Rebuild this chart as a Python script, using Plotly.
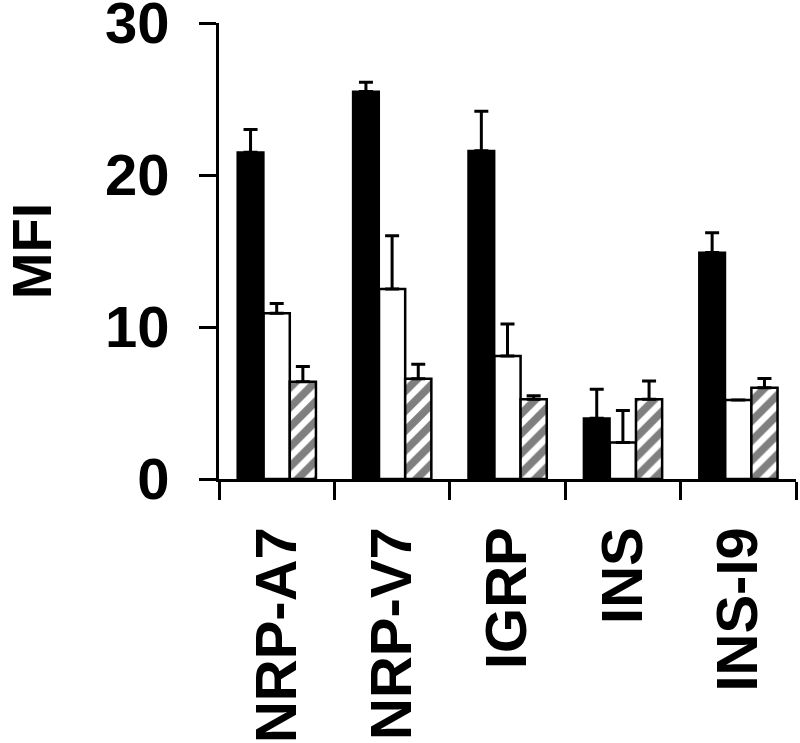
import plotly.graph_objects as go

categories = ["NRP-A7", "NRP-V7", "IGRP", "INS", "INS-I9"]

black_vals = [21.5, 25.5, 21.6, 4.0, 14.9]
black_err = [1.5, 0.6, 2.6, 1.9, 1.3]

white_vals = [10.9, 12.5, 8.1, 2.4, 5.2]
white_err = [0.65, 3.5, 2.1, 2.1, 0.0]

hatch_vals = [6.4, 6.6, 5.25, 5.25, 6.0]
hatch_err = [1.0, 0.95, 0.22, 1.2, 0.62]

y_ticks = [0, 10, 20, 30]

FONT = "Liberation Sans, Arial, sans-serif"


def err(vals):
    return dict(type="data", symmetric=False, array=vals,
                arrayminus=[0] * len(vals), color="black",
                thickness=3, width=7, visible=True)


fig = go.Figure()

fig.add_trace(go.Bar(
    x=categories, y=black_vals, error_y=err(black_err),
    marker=dict(color="black", line=dict(color="black", width=2)),
    showlegend=False,
))
fig.add_trace(go.Bar(
    x=categories, y=white_vals, error_y=err(white_err),
    marker=dict(color="white", line=dict(color="black", width=2.5)),
    showlegend=False,
))
fig.add_trace(go.Bar(
    x=categories, y=hatch_vals, error_y=err(hatch_err),
    marker=dict(color="white", line=dict(color="black", width=2.5),
                pattern=dict(shape="/", fgcolor="black", bgcolor="white",
                             size=14, solidity=0.55)),
    showlegend=False,
))

fig.update_layout(
    width=800, height=743,
    barmode="group", bargap=0.32, bargroupgap=0,
    paper_bgcolor="white", plot_bgcolor="white",
    margin=dict(l=219, r=4, t=23, b=264, autoexpand=False),
    font=dict(family=FONT, size=56, color="black"),
)

fig.update_xaxes(
    showline=True, linecolor="black", linewidth=3,
    ticks="outside", ticklen=18, tickwidth=3, tickcolor="black",
    tickson="boundaries", tickangle=-90, automargin=False,
    ticklabeloverflow="allow", ticklabelstandoff=22,
    tickfont=dict(family=FONT, size=58, color="black", weight="bold"),
    showgrid=False, zeroline=False,
)
fig.update_yaxes(
    range=[0, 30], tickvals=y_ticks, ticktext=[str(t) for t in y_ticks],
    showline=True, linecolor="black", linewidth=3,
    ticks="outside", ticklen=17, tickwidth=3, tickcolor="black",
    automargin=False, ticklabeloverflow="allow", ticklabelstandoff=18,
    tickfont=dict(family=FONT, size=58, color="black", weight="bold"),
    title=dict(text="MFI", standoff=71,
               font=dict(family=FONT, size=56, color="black", weight="bold")),
    showgrid=False, zeroline=False,
)

# drop the default 8px body margin so the figure fills the window exactly
fig.write_html("out.html", config={"displayModeBar": False},
               post_script="document.body.style.margin='0';")
